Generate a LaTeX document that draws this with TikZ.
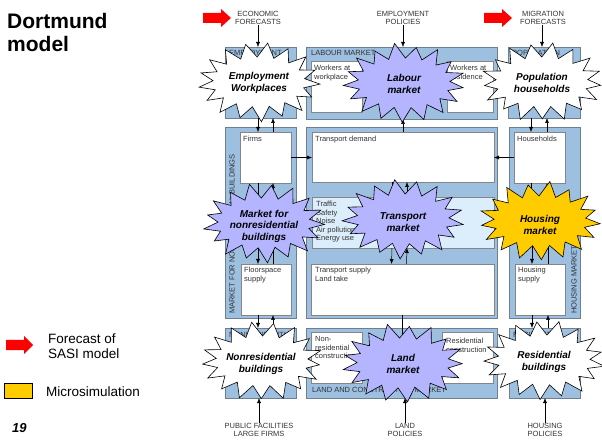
\documentclass[tikz,border=0pt]{standalone}
\usepackage{fontspec}
\setmainfont{Liberation Sans}
\usetikzlibrary{arrows.meta}
\definecolor{panelblue}{HTML}{9DBFE0}
\definecolor{panelline}{HTML}{6F7F8F}
\definecolor{lav}{HTML}{B4B4FF}
\definecolor{gold}{HTML}{FFCC00}
\definecolor{bandblue}{HTML}{DCEEFB}
\definecolor{boxline}{HTML}{858585}
\newcommand\mypanel[6]{\node[#6, anchor=north west, minimum width={(#4-#2)*1pt}, minimum height={(#5-#3)*1pt}, inner sep=0pt, outer sep=0pt] (#1) at (#2,#3) {};}
% star: fill, cx, cy, seed
\newcommand\mystar[4]{\filldraw[fill=#1, draw=black, line width=0.6pt]
  plot[domain=0:33, samples=34, variable=\k]
  ({#2 + (46 + (cos(180*\k) > 0 ? 15*(0.75+0.25*abs(sin(\k*137+#4*31))) : 0))*cos(\k*360/34+#4)},
   {#3 + (25 + (cos(180*\k) > 0 ? 15*(0.75+0.25*abs(sin(\k*137+#4*31))) : 0))*sin(\k*360/34+#4)}) -- cycle;}
\tikzset{
 panel/.style={draw=panelline, fill=panelblue, line width=0.8pt},
 wbox/.style={draw=boxline, fill=white, line width=0.8pt},
 bandbox/.style={draw=boxline, fill=bandblue, line width=0.8pt},
 small/.style={font=\fontsize{7.5}{8.8}\selectfont, align=left, inner sep=0pt, anchor=north west, text=black!80},
 captxt/.style={font=\fontsize{7.5}{8.5}\selectfont, align=center, inner sep=0pt, text=black!80},
 bursttext/.style={font=\fontsize{10}{11.5}\selectfont\bfseries\itshape, align=center, inner sep=0pt},
 arr/.style={-{Latex[length=5pt,width=4pt]}, line width=0.5pt},
}
\begin{document}
\begin{tikzpicture}[x=1pt,y=-1pt]
\useasboundingbox (0,0) rectangle (602,443);
% title
\node[font=\fontsize{21}{23}\selectfont\bfseries, align=left, inner sep=0pt, anchor=north west] (title) at (7,13) {Dortmund\\model};
% panels
\mypanel{empP}{225}{47}{296}{118}{panel}
\mypanel{labP}{306}{47}{497}{119}{panel}
\mypanel{popP}{508}{47}{580}{118}{panel}
\mypanel{nrmP}{225}{127}{296}{318}{panel}
\mypanel{trP}{306}{127}{497}{318}{panel}
\mypanel{hmP}{509}{127}{580}{318}{panel}
\mypanel{nrbP}{225}{328}{296}{398}{panel}
\mypanel{lcP}{306}{328}{497}{398}{panel}
\mypanel{rbP}{509}{328}{580}{398}{panel}
% inner boxes
\mypanel{wwBox}{311}{61}{362}{112}{wbox}
\mypanel{wrBox}{447}{61}{493}{112}{wbox}
\mypanel{firms}{240}{132}{291}{183}{wbox}
\mypanel{floor}{241}{264}{291}{315}{wbox}
\mypanel{tdem}{312}{132}{494}{182}{wbox}
\mypanel{band}{312}{197}{494}{248}{bandbox}
\mypanel{tsup}{311}{264}{494}{315}{wbox}
\mypanel{hh}{514}{132}{565}{183}{wbox}
\mypanel{hs}{515}{264}{565}{315}{wbox}
\mypanel{nrc}{311}{332}{362}{383}{wbox}
\mypanel{rc}{442}{332}{493}{383}{wbox}
% panel labels
\node[small] (empL) at (229,50) {EMPLOYMENT};
\node[small] (labL) at (311,50) {LABOUR MARKET};
\node[small] (popL) at (512,50) {POPULATION};
\node[small] (nrbL) at (229,332) {NONRESIDENTIAL};
\node[small] (rbL) at (513,332) {RESIDENTIAL};
\node[small] (lcL) at (312,387) {LAND AND CONSTRUCTION MARKET};
\node[small, rotate=90, anchor=west] (nrmL) at (232,314) {MARKET FOR NONRESIDENTIAL BUILDINGS};
\node[small, rotate=90, anchor=west] (hmL) at (574,314) {HOUSING MARKET};
% box texts
\node[small] (wwT) at (314,65) {Workers at\\workplace};
\node[small] (wrT) at (450,65) {Workers at\\residence};
\node[small] (firmsT) at (243,136) {Firms};
\node[small] (tdemT) at (315,136) {Transport demand};
\node[small] (hhT) at (517,136) {Households};
\node[small, font=\fontsize{7.5}{8.5}\selectfont] (bandT) at (316,201) {Traffic\\Safety\\Noise\\Air pollution\\Energy use};
\node[small] (floorT) at (244,267) {Floorspace\\supply};
\node[small] (tsupT) at (315,267) {Transport supply\\Land take};
\node[small] (hsT) at (518,267) {Housing\\supply};
\node[small] (nrcT) at (315,336) {Non-\\residential\\construction};
\node[small] (rcT) at (446,338) {Residential\\construction};
% connectors under the stars
\draw[arr] ([xshift=-7.5pt]firms.north |- empP.south) -- ([xshift=-7.5pt]firms.north);
\draw[arr] ([xshift=7.5pt]firms.north) -- ([xshift=7.5pt]firms.north |- empP.south);
\draw[arr] ([xshift=-7.5pt]firms.south) -- ([xshift=-7.5pt]firms.south |- band.center);
\draw[arr] ([xshift=7.5pt]firms.south |- band.center) -- ([xshift=7.5pt]firms.south);
\draw[arr] ([xshift=-8pt]floor.north |- band.center) -- ([xshift=-8pt]floor.north);
\draw[arr] ([xshift=7pt]floor.north) -- ([xshift=7pt]floor.north |- band.center);
\draw[arr] ([xshift=-8pt]floor.south) -- ([xshift=-8pt]floor.south |- nrbP.north);
\draw[arr] ([xshift=7pt]floor.south |- nrbP.north) -- ([xshift=7pt]floor.south);
\draw[arr] ([xshift=-8.5pt]hh.north |- popP.south) -- ([xshift=-8.5pt]hh.north);
\draw[arr] ([xshift=7.5pt]hh.north) -- ([xshift=7.5pt]hh.north |- popP.south);
\draw[arr] ([xshift=-8.5pt]hh.south) -- ([xshift=-8.5pt]hh.south |- band.center);
\draw[arr] ([xshift=7.5pt]hh.south |- band.center) -- ([xshift=7.5pt]hh.south);
\draw[arr] ([xshift=-8pt]hs.north |- band.center) -- ([xshift=-8pt]hs.north);
\draw[arr] ([xshift=8pt]hs.north) -- ([xshift=8pt]hs.north |- band.center);
\draw[arr] ([xshift=-8pt]hs.south) -- ([xshift=-8pt]hs.south |- rbP.north);
\draw[arr] ([xshift=8pt]hs.south |- rbP.north) -- ([xshift=8pt]hs.south);
\draw[arr] (tdem.north) -- (tdem.north |- labP.south);
\draw[arr] ([xshift=-11pt]tdem.south) -- ([xshift=-11pt]band.north);
\draw[arr] ([xshift=4pt]band.north) -- ([xshift=4pt]tdem.south);
\draw[arr] ([xshift=-11pt]band.south) -- ([xshift=-11pt]tsup.north);
\draw[arr] ([xshift=4pt]tsup.north) -- ([xshift=4pt]band.south);
\draw[arr] (tsup.south) -- (tsup.south |- lcP.center);
\draw[arr] (firms.east) -- (firms.east -| tdem.west);
\draw[arr] (hh.west) -- (hh.west -| tdem.east);
% stars
\mystar{white}{259}{82}{3}
\node[bursttext] (ew) at (259,83) {Employment\\Workplaces};
\mystar{lav}{404}{83}{7}
\node[bursttext] (lm) at (404,84) {Labour\\market};
\mystar{white}{542}{82}{5}
\node[bursttext] (ph) at (542,83) {Population\\households};
\mystar{lav}{264}{223}{2}
\node[bursttext] (nrm) at (264,226) {Market for\\nonresidential\\buildings};
\mystar{lav}{403}{219}{8}
\node[bursttext] (tm) at (403,222) {Transport\\market};
\mystar{gold}{540}{221}{4}
\node[bursttext] (hm) at (540,225) {Housing\\market};
\mystar{white}{262}{361}{6}
\node[bursttext] (nrb) at (261,364) {Nonresidential\\buildings};
\mystar{lav}{403}{363}{1}
\node[bursttext] (lam) at (403,364) {Land\\market};
\mystar{white}{544}{360}{9}
\node[bursttext] (rb) at (544,362) {Residential\\buildings};
% top captions
\node[captxt] (econ) at (258,18) {ECONOMIC\\FORECASTS};
\node[captxt] (emppol) at (403,18) {EMPLOYMENT\\POLICIES};
\node[captxt] (migr) at (543,18) {MIGRATION\\FORECASTS};
\draw[arr] (econ.south) -- (econ.south |- empP.north);
\draw[arr] (emppol.south) -- (emppol.south |- labP.north);
\draw[arr] ([xshift=-1pt]migr.south) -- ([xshift=-1pt]migr.south |- popP.north);
% bottom captions
\node[captxt] (pubfac) at (259,430) {PUBLIC FACILITIES\\LARGE FIRMS};
\node[captxt] (landpol) at (405,430) {LAND\\POLICIES};
\node[captxt] (houspol) at (545,430) {HOUSING\\POLICIES};
\draw[arr] (pubfac.north) -- (pubfac.north |- nrbP.south);
\draw[arr] (landpol.north) -- (landpol.north |- lcP.south);
\draw[arr] (houspol.north) -- (houspol.north |- rbP.south);
% red arrows
\fill[red] (203,13) -- (221,13) -- (221,9) -- (231,18) -- (221,27) -- (221,23) -- (203,23) -- cycle;
\fill[red] (484,13) -- (502,13) -- (502,9) -- (512,18) -- (502,27) -- (502,23) -- (484,23) -- cycle;
% legend
\fill[red] (6,340) -- (24,340) -- (24,336) -- (33,345) -- (24,354) -- (24,350) -- (6,350) -- cycle;
\node[font=\fontsize{13.5}{15.5}\selectfont, align=left, inner sep=0pt, anchor=west] (legA) at (48,346) {Forecast of\\SASI model};
\node[draw=black, fill=gold, line width=0.7pt, minimum width=28pt, minimum height=15pt, inner sep=0pt, anchor=north west] (legbox) at (4,383) {};
\node[font=\fontsize{13.5}{15.5}\selectfont, inner sep=0pt, anchor=west] (legB) at (46,392) {Microsimulation};
\node[font=\fontsize{13}{15}\selectfont\bfseries\itshape, inner sep=0pt, anchor=west] (pg) at (12,428) {19};
\end{tikzpicture}
\end{document}
